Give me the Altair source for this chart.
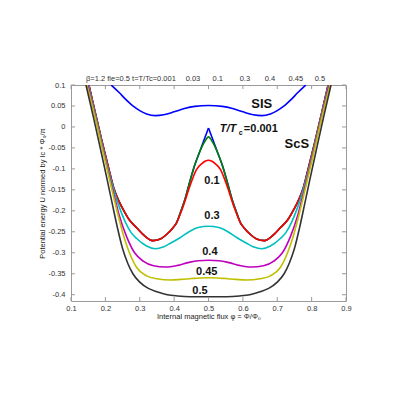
import altair as alt
import pandas as pd

# ---------------- data ----------------
sis_x = [0.217, 0.24, 0.26, 0.28, 0.30, 0.32, 0.345, 0.37, 0.40, 0.43, 0.46, 0.50,
         0.54, 0.57, 0.60, 0.63, 0.655, 0.68, 0.70, 0.72, 0.74, 0.76, 0.783]
sis_y = [0.1, 0.082, 0.065, 0.05, 0.039, 0.031, 0.027, 0.029, 0.036, 0.044, 0.049, 0.051,
         0.049, 0.044, 0.036, 0.029, 0.027, 0.031, 0.039, 0.05, 0.065, 0.082, 0.1]

# T/Tc = 0.001 (two halves meeting in the cusp)
t0001_left_x = [0.152, 0.17, 0.19, 0.21, 0.224, 0.24, 0.252, 0.27, 0.291, 0.315, 0.337, 0.36,
                0.378, 0.395, 0.407, 0.42, 0.4314, 0.446, 0.4605, 0.475, 0.4875, 0.5]
t0001_left_y = [0.1, 0.036, -0.034, -0.1, -0.145, -0.178, -0.197, -0.222, -0.2405, -0.2605, -0.271, -0.267,
                -0.2564, -0.242, -0.2286, -0.2, -0.173, -0.1295, -0.0898, -0.058, -0.030, -0.0024]
t0001_right_x = [0.5, 0.5125, 0.525, 0.5395, 0.554, 0.5686, 0.58, 0.593, 0.605, 0.622, 0.64, 0.663,
                 0.685, 0.709, 0.73, 0.748, 0.76, 0.776, 0.79, 0.81, 0.83, 0.848]
t0001_right_y = [-0.0024, -0.030, -0.058, -0.0898, -0.1295, -0.173, -0.2, -0.2286, -0.242, -0.2564, -0.267, -0.271,
                 -0.2605, -0.2405, -0.222, -0.197, -0.178, -0.145, -0.1, -0.034, 0.036, 0.1]

t003_x = [0.152, 0.17, 0.19, 0.21, 0.224, 0.24, 0.252, 0.27, 0.291, 0.315, 0.337, 0.36,
          0.378, 0.395, 0.407, 0.42, 0.4314, 0.446, 0.4605, 0.475, 0.4895, 0.5,
          0.5105, 0.525, 0.5395, 0.554, 0.5686, 0.58, 0.593, 0.605, 0.622, 0.64, 0.663,
          0.685, 0.709, 0.73, 0.748, 0.76, 0.776, 0.79, 0.81, 0.83, 0.848]
t003_y = [0.1, 0.036, -0.034, -0.1, -0.145, -0.178, -0.197, -0.222, -0.2405, -0.2605, -0.271, -0.267,
          -0.2564, -0.242, -0.2286, -0.2, -0.173, -0.1295, -0.0898, -0.058, -0.034, -0.0238,
          -0.034, -0.058, -0.0898, -0.1295, -0.173, -0.2, -0.2286, -0.242, -0.2564, -0.267, -0.271,
          -0.2605, -0.2405, -0.222, -0.197, -0.178, -0.145, -0.1, -0.034, 0.036, 0.1]

t01_x = [0.152, 0.17, 0.19, 0.21, 0.224, 0.24, 0.252, 0.27, 0.291, 0.315, 0.337, 0.36,
         0.378, 0.395, 0.407, 0.4265, 0.446, 0.465, 0.48, 0.49, 0.5,
         0.51, 0.52, 0.535, 0.554, 0.5735, 0.593, 0.605, 0.622, 0.64, 0.663,
         0.685, 0.709, 0.73, 0.748, 0.76, 0.776, 0.79, 0.81, 0.83, 0.848]
t01_y = [0.1, 0.036, -0.034, -0.1, -0.145, -0.178, -0.197, -0.222, -0.2405, -0.2605, -0.271, -0.267,
         -0.2564, -0.242, -0.2286, -0.189, -0.141, -0.1017, -0.088, -0.082, -0.0795,
         -0.082, -0.088, -0.1017, -0.141, -0.189, -0.2286, -0.242, -0.2564, -0.267, -0.271,
         -0.2605, -0.2405, -0.222, -0.197, -0.178, -0.145, -0.1, -0.034, 0.036, 0.1]

t03_x = [0.1505, 0.17, 0.19, 0.21, 0.225, 0.24, 0.257, 0.275, 0.291, 0.32, 0.345, 0.37,
         0.388, 0.417, 0.446, 0.47, 0.5,
         0.53, 0.554, 0.583, 0.612, 0.63, 0.655, 0.68, 0.709, 0.725, 0.743, 0.76,
         0.775, 0.79, 0.81, 0.83, 0.8495]
t03_y = [0.1, 0.032, -0.039, -0.107, -0.152, -0.19, -0.225, -0.252, -0.266, -0.284, -0.2905, -0.2855,
         -0.2779, -0.2643, -0.2486, -0.240, -0.2367,
         -0.240, -0.2486, -0.2643, -0.2779, -0.2855, -0.2905, -0.284, -0.266, -0.252, -0.225, -0.19,
         -0.152, -0.107, -0.039, 0.032, 0.1]

t04_x = [0.149, 0.17, 0.19, 0.21, 0.225, 0.24, 0.262, 0.285, 0.31, 0.34, 0.375, 0.41, 0.44, 0.47, 0.5,
         0.53, 0.56, 0.59, 0.625, 0.66, 0.69, 0.715, 0.738, 0.76, 0.775, 0.79, 0.81, 0.83, 0.851]
t04_y = [0.1, 0.028, -0.044, -0.113, -0.162, -0.21, -0.262, -0.3, -0.32, -0.331, -0.334, -0.330, -0.3235, -0.319, -0.318,
         -0.319, -0.3235, -0.330, -0.334, -0.331, -0.32, -0.3, -0.262, -0.21, -0.162, -0.113, -0.044, 0.028, 0.1]

t045_x = [0.1465, 0.17, 0.19, 0.21, 0.225, 0.24, 0.255, 0.27, 0.291, 0.32, 0.35, 0.39, 0.42, 0.45, 0.475, 0.5,
          0.525, 0.55, 0.58, 0.61, 0.65, 0.68, 0.709, 0.73, 0.745, 0.76, 0.775, 0.79, 0.81, 0.83, 0.8535]
t045_y = [0.1, 0.024, -0.048, -0.118, -0.17, -0.22, -0.265, -0.3, -0.335, -0.355, -0.362, -0.365, -0.3635, -0.3615, -0.360, -0.3595,
          -0.360, -0.3615, -0.3635, -0.365, -0.362, -0.355, -0.335, -0.3, -0.265, -0.22, -0.17, -0.118, -0.048, 0.024, 0.1]

t05_x = [0.1436, 0.165, 0.185, 0.205, 0.22, 0.235, 0.25, 0.265, 0.28, 0.3, 0.325, 0.35, 0.38, 0.41, 0.446, 0.5,
         0.554, 0.59, 0.62, 0.65, 0.675, 0.7, 0.72, 0.735, 0.75, 0.765, 0.78, 0.795, 0.815, 0.835, 0.8564]
t05_y = [0.1, 0.024, -0.05, -0.125, -0.183, -0.24, -0.29, -0.325, -0.35, -0.37, -0.385, -0.393, -0.4, -0.403, -0.4048, -0.405,
         -0.4048, -0.403, -0.4, -0.393, -0.385, -0.37, -0.35, -0.325, -0.29, -0.24, -0.183, -0.125, -0.05, 0.024, 0.1]

x_ticks = [0.1, 0.2, 0.3, 0.4, 0.5, 0.6, 0.7, 0.8, 0.9]
y_ticks = [0.1, 0.05, 0, -0.05, -0.1, -0.15, -0.2, -0.25, -0.3, -0.35, -0.4]

top_labels = ["\u03b2=1.2  fie=0.5  t=T/Tc=0.001", "0.03", "0.1", "0.3", "0.4", "0.45", "0.5"]
top_label_x = [0.2744, 0.4547, 0.527, 0.6058, 0.6785, 0.754, 0.824]

curve_labels = ["SIS", "ScS", "0.1", "0.3", "0.4", "0.45", "0.5"]
curve_label_x = [0.655, 0.757, 0.51, 0.51, 0.504, 0.495, 0.475]
curve_label_y = [0.0555, -0.0397, -0.128, -0.2117, -0.2993, -0.347, -0.39]
curve_label_size = [13, 13, 11, 11, 11, 11, 11]

# ---------------- chart ----------------
XS = alt.Scale(domain=[0.1, 0.9], nice=False, zero=False)
YS = alt.Scale(domain=[-0.415, 0.1], nice=False, zero=False)
FONT = "Liberation Sans"
FRAME = "#9a9a9a"

X_AXIS = alt.Axis(values=x_ticks, labelExpr="toString(datum.value)", tickSize=0, domain=False, grid=False,
                  labelFlush=False, labelFont=FONT, labelFontSize=7.5, labelColor="#333333", labelPadding=3,
                  title="Internal magnetic flux \u03c6 = \u03a6/\u03a6\u2080", titleFont=FONT, titleFontSize=7.5,
                  titleFontWeight="normal", titleColor="#222222", titlePadding=1)
Y_AXIS = alt.Axis(values=y_ticks, labelExpr="toString(datum.value)", tickSize=0, domain=False, grid=False,
                  labelFlush=False, labelFont=FONT, labelFontSize=7.5, labelColor="#333333", labelPadding=6,
                  title="Potential energy U normed by Ic * \u03a6\u2080/\u03c0", titleFont=FONT, titleFontSize=7.5,
                  titleFontWeight="normal", titleColor="#222222", titlePadding=1)


def X():
    return alt.X("x:Q", scale=XS, axis=X_AXIS)


def Y():
    return alt.Y("y:Q", scale=YS, axis=Y_AXIS)


def frame(xs, ys, seg="a"):
    return pd.DataFrame({"x": xs, "y": ys, "seg": seg})


series = [
    (pd.concat([frame(t0001_left_x, t0001_left_y, "L"), frame(t0001_right_x, t0001_right_y, "R")]), "#0000ff"),
    (frame(t003_x, t003_y), "#008000"),
    (frame(t01_x, t01_y), "#ff0000"),
    (frame(t03_x, t03_y), "#00bfbf"),
    (frame(t04_x, t04_y), "#bf00bf"),
    (frame(t045_x, t045_y), "#bfbf00"),
    (frame(t05_x, t05_y), "#333333"),
    (frame(sis_x, sis_y), "#0000ff"),
]

layers = []
for df, col in series:
    layers.append(
        alt.Chart(df).mark_line(color=col, strokeWidth=1.6, interpolate="monotone", clip=True).encode(
            x=X(), y=Y(), detail="seg:N")
    )

# inward tick marks (MATLAB style box)
xt = pd.DataFrame({"x": x_ticks})
yt = pd.DataFrame({"y": y_ticks})
layers += [
    alt.Chart(xt).mark_rule(color=FRAME, strokeWidth=1).encode(x=X(), y=alt.value(216), y2=alt.value(212)),
    alt.Chart(xt).mark_rule(color=FRAME, strokeWidth=1).encode(x=X(), y=alt.value(0), y2=alt.value(4)),
    alt.Chart(yt).mark_rule(color=FRAME, strokeWidth=1).encode(y=Y(), x=alt.value(0), x2=alt.value(4)),
    alt.Chart(yt).mark_rule(color=FRAME, strokeWidth=1).encode(y=Y(), x=alt.value(271), x2=alt.value(275)),
]

# top labels
tl = pd.DataFrame({"x": top_label_x, "t": top_labels})
layers.append(
    alt.Chart(tl).mark_text(font=FONT, fontSize=7.5, color="#333333", baseline="middle").encode(
        x=X(), y=alt.value(-6), text="t:N")
)

# curve labels
cl = pd.DataFrame({"x": curve_label_x, "y": curve_label_y, "t": curve_labels, "s": curve_label_size})
layers.append(
    alt.Chart(cl).mark_text(font=FONT, fontWeight="bold", color="#111111", baseline="middle").encode(
        x=X(), y=Y(), text="t:N", size=alt.Size("s:Q", scale=None, legend=None))
)

# T/Tc=0.001 label (italic T/T, subscript c)
tt = pd.DataFrame({"x": [0.533], "y": [-0.004]})
layers += [
    alt.Chart(tt).mark_text(font=FONT, fontWeight="bold", fontStyle="italic", fontSize=11, align="left",
                            baseline="middle", color="#111111", text="T/T").encode(x=X(), y=Y()),
    alt.Chart(tt).mark_text(font=FONT, fontWeight="bold", fontSize=7, align="left", baseline="middle",
                            color="#111111", text="c", dx=19, dy=4).encode(x=X(), y=Y()),
    alt.Chart(tt).mark_text(font=FONT, fontWeight="bold", fontSize=11, align="left", baseline="middle",
                            color="#111111", text="=0.001", dx=24).encode(x=X(), y=Y()),
]

chart = alt.layer(*layers).properties(
    width=275, height=216,
    padding={"left": 63, "top": 77, "right": 40, "bottom": 70},
    autosize=alt.AutoSizeParams(type="none"),
).configure_view(stroke=FRAME, strokeWidth=1)

chart.save("out.html", embed_options={"renderer": "svg", "actions": False})
